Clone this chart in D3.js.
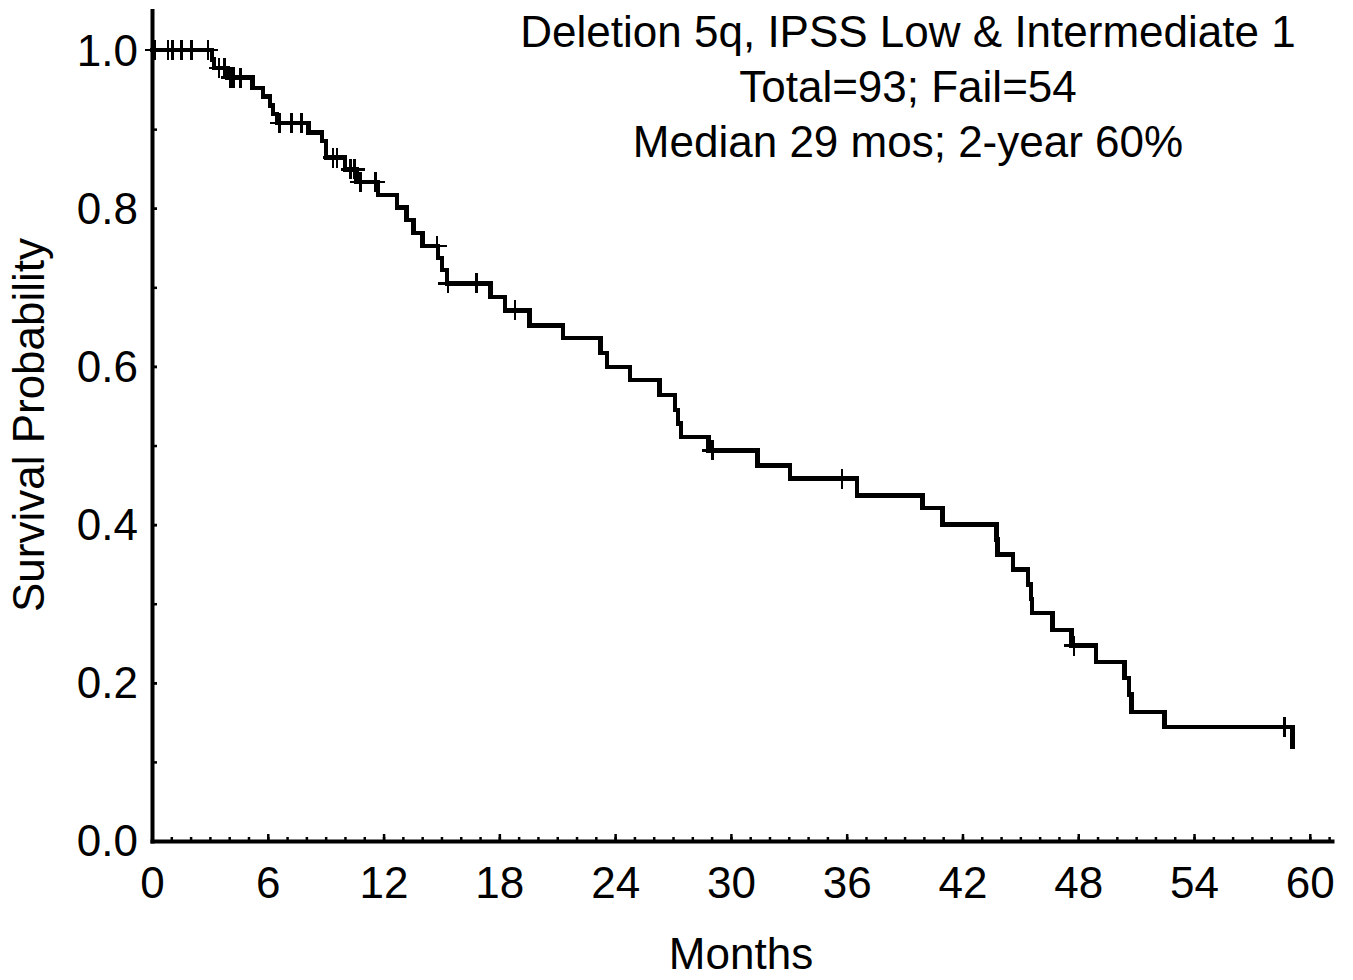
<!DOCTYPE html>
<html>
<head>
<meta charset="utf-8">
<script src="https://cdn.jsdelivr.net/npm/d3@7"></script>
<style>
  html, body { margin: 0; padding: 0; background: #fff; }
  svg { display: block; }
  text { font-family: "Liberation Sans", Arial, sans-serif; fill: #000; }
</style>
</head>
<body>
<svg id="chart" width="1353" height="980"></svg>
<script>
// ---- data ----
const titleLines = ["Deletion 5q, IPSS Low & Intermediate 1", "Total=93; Fail=54", "Median 29 mos; 2-year 60%"];
const xLabel = "Months";
const yLabel = "Survival Probability";
const xTickValues = [0, 6, 12, 18, 24, 30, 36, 42, 48, 54, 60];
const yTickValues = [0, 0.2, 0.4, 0.6, 0.8, 1.0];

// event (death) times in months and survival after each drop
const eventTimes = [3.11, 3.21, 3.92, 5.20, 5.76, 6.11, 6.27, 6.47, 8.10, 8.81, 9.02, 9.99, 10.60, 11.72,
  12.69, 13.20, 13.55, 14.01, 14.83, 15.03, 15.29, 17.53, 18.29, 19.56, 21.30, 23.23, 23.59, 24.76,
  26.29, 27.11, 27.26, 27.41, 28.84, 31.39, 33.07, 36.53, 39.94, 40.96, 43.77, 43.82, 44.63, 45.40,
  45.55, 45.60, 46.67, 47.64, 48.91, 50.39, 50.64, 50.75, 52.48, 59.10];
const survival = [0.988, 0.977, 0.965, 0.952, 0.941, 0.930, 0.919, 0.908, 0.896, 0.885, 0.864, 0.849, 0.833, 0.817,
  0.801, 0.785, 0.769, 0.752, 0.737, 0.722, 0.705, 0.688, 0.671, 0.652, 0.636, 0.617, 0.599, 0.583,
  0.564, 0.545, 0.528, 0.511, 0.494, 0.475, 0.458, 0.437, 0.421, 0.400, 0.381, 0.362, 0.343, 0.324,
  0.306, 0.288, 0.267, 0.247, 0.226, 0.206, 0.185, 0.163, 0.144, 0.119];
// censored observation times (months)
const censorTimes = [0.15, 0.82, 1.07, 1.53, 2.04, 2.90, 3.46, 3.77, 4.08, 4.23, 4.59, 6.62, 7.24, 7.74,
  9.37, 9.58, 10.29, 10.50, 10.80, 11.57, 14.78, 15.34, 16.81, 18.80, 29.04, 35.77, 47.79, 58.70];

// ---- layout ----
const svg = d3.select("#chart");
const x = d3.scaleLinear().domain([0, 61.15]).range([152, 1332]);
const y = d3.scaleLinear().domain([0, 1.05]).range([841, 10.5]);
const FS = 44;

// step data
const steps = [{t: 0, s: 1}].concat(eventTimes.map((t, i) => ({t, s: survival[i]})));
function survAt(t) {
  let s = 1;
  for (const d of steps) { if (d.t <= t) s = d.s; else break; }
  return s;
}

// ---- axes ----
const axisY = 841, axisX = 152;

// minor x ticks
const gxMinor = svg.append("g").attr("transform", `translate(0,${axisY})`)
  .call(d3.axisBottom(x).tickValues(d3.range(0, 62, 1)).tickSize(-4).tickSizeOuter(0).tickFormat(""));
gxMinor.select(".domain").remove();
gxMinor.selectAll("line").attr("stroke", "#000").attr("stroke-width", 2.5);

const gx = svg.append("g").attr("transform", `translate(0,${axisY})`)
  .call(d3.axisBottom(x).tickValues(xTickValues).tickSize(-7).tickSizeOuter(0).tickPadding(26).tickFormat(d3.format("d")));
gx.select(".domain").attr("stroke", "#000").attr("stroke-width", 4).attr("stroke-linecap", "square");
gx.selectAll("line").attr("stroke", "#000").attr("stroke-width", 2.5);
gx.selectAll("text").attr("font-size", FS).attr("font-family", "Liberation Sans, Arial, sans-serif").attr("fill", "#000");

// minor y ticks
const gyMinor = svg.append("g").attr("transform", `translate(${axisX},0)`)
  .call(d3.axisLeft(y).tickValues(d3.range(1, 11).map(v => v / 10)).tickSize(-5).tickSizeOuter(0).tickFormat(""));
gyMinor.select(".domain").remove();
gyMinor.selectAll("line").attr("stroke", "#000").attr("stroke-width", 2.5);

const gy = svg.append("g").attr("transform", `translate(${axisX},0)`)
  .call(d3.axisLeft(y).tickValues(yTickValues).tickSize(-5).tickSizeOuter(0).tickPadding(14).tickFormat(d3.format(".1f")));
gy.select(".domain").attr("stroke", "#000").attr("stroke-width", 4).attr("stroke-linecap", "square");
gy.selectAll("line").attr("stroke", "#000").attr("stroke-width", 2.5);
gy.selectAll("text").attr("font-size", FS).attr("font-family", "Liberation Sans, Arial, sans-serif").attr("fill", "#000")
  .attr("dy", "0.34em");

// ---- curve ----
const line = d3.line().x(d => x(d.t)).y(d => y(d.s)).curve(d3.curveStepAfter);
svg.append("path").datum(steps)
  .attr("d", line)
  .attr("fill", "none").attr("stroke", "#000").attr("stroke-width", 4.5)
  .attr("stroke-linejoin", "miter").attr("stroke-linecap", "square")
  .attr("shape-rendering", "crispEdges");

// censor marks
const half = 10;
const cg = svg.append("g").attr("stroke", "#000").attr("stroke-width", 2.5).attr("shape-rendering", "crispEdges");
censorTimes.forEach(t => {
  const cx = x(t), cy = y(survAt(t));
  cg.append("line").attr("x1", cx - half).attr("x2", cx + half).attr("y1", cy).attr("y2", cy);
  cg.append("line").attr("x1", cx).attr("x2", cx).attr("y1", cy - half).attr("y2", cy + half);
});

// ---- texts ----
titleLines.forEach((txt, i) => {
  svg.append("text").attr("x", 908).attr("y", 47 + i * 55)
    .attr("text-anchor", "middle").attr("font-size", FS).text(txt);
});
svg.append("text").attr("x", 741).attr("y", 969).attr("text-anchor", "middle")
  .attr("font-size", FS).text(xLabel);
svg.append("text").attr("transform", "translate(44,425) rotate(-90)").attr("text-anchor", "middle")
  .attr("font-size", FS).text(yLabel);
</script>
</body>
</html>
